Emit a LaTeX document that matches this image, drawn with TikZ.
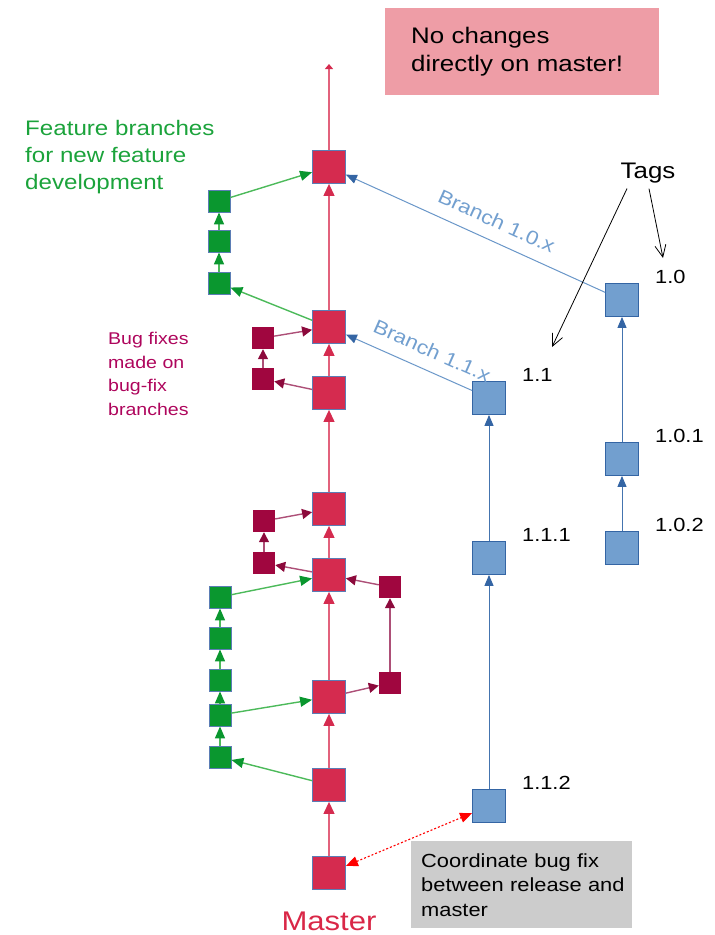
\documentclass[tikz,border=0pt]{standalone}
\usepackage{fontspec}
\setmainfont{Liberation Sans}[FakeStretch=1.15]
\usetikzlibrary{positioning,arrows.meta}

\definecolor{masterred}{HTML}{D52B4F}
\definecolor{masterline}{HTML}{E2627C}
\definecolor{featgreen}{HTML}{0A972F}
\definecolor{featline}{HTML}{4CBA5A}
\definecolor{feattext}{HTML}{1BA33B}
\definecolor{bugred}{HTML}{A0063F}
\definecolor{bugline}{HTML}{AD4F77}
\definecolor{bughead}{HTML}{8C0A3C}
\definecolor{relblue}{HTML}{729FCF}
\definecolor{reldark}{HTML}{3465A4}
\definecolor{boxedge}{HTML}{5B7DB5}
\definecolor{notepink}{HTML}{EE9DA6}
\definecolor{notegray}{HTML}{CCCCCC}

\tikzset{
  commit/.style={draw=boxedge, line width=0.8pt, inner sep=0pt, minimum size=33pt},
  master/.style={commit, fill=masterred},
  feature/.style={commit, fill=featgreen, minimum size=22pt},
  bugfix/.style={fill=bugred, inner sep=0pt, minimum size=22pt},
  release/.style={commit, fill=relblue, draw=reldark},
  masterarrow/.style={masterline, line width=1.2pt, -{Triangle[length=12pt,width=11pt,color=masterred]}},
  featarrow/.style={featline, line width=1.4pt, -{Triangle[length=12pt,width=10pt,color=featgreen]}},
  bugarrow/.style={bugline, line width=1.4pt, -{Triangle[length=10pt,width=10pt,color=bughead]}},
  relarrow/.style={reldark!75!relblue, line width=1pt, -{Triangle[length=11pt,width=9pt,color=reldark]}},
  branchline/.style={relarrow, relblue!85!reldark},
  tagarrow/.style={black, line width=0.8pt, -{Straight Barb[length=12pt,width=11pt]}},
  version/.style={font=\fontsize{19}{23}\selectfont, anchor=base west, inner sep=0pt},
  branchlabel/.style={font=\fontsize{19.5}{22}\selectfont, text=relblue, sloped, above=9pt},
  note/.style={anchor=north west, align=left, inner ysep=0pt}
}

\begin{document}
\begin{tikzpicture}[x=1pt, y=-1pt]
  \useasboundingbox (0,0) rectangle (715,935);

  % Master commits
  \foreach \n/\y in {1/167, 2/327, 3/393, 4/509, 5/575, 6/697, 7/785, 8/873}
    \node[master] (m\n) at (329,\y) {};
  \coordinate (mtop) at (329,64);
  \draw[masterline, line width=1.2pt, -{Triangle[length=5pt,width=8pt,color=masterred]}] (m1) -- (mtop);
  \foreach \a/\b in {2/1, 3/2, 4/3, 5/4, 6/5, 7/6, 8/7}
    \draw[masterarrow] (m\a) -- (m\b);
  \node[text=masterred!90!red, font=\fontsize{27}{30}\selectfont] (masterlbl) at (329,921) {Master};

  % Feature branches
  \foreach \n/\y in {1/201, 2/241, 3/283}
    \node[feature] (fa\n) at (219,\y) {};
  \foreach \n/\y in {1/597, 2/638, 3/680, 4/715, 5/757}
    \node[feature] (fb\n) at (220,\y) {};
  \draw[featarrow] (m2) -- (fa3);
  \draw[featarrow] (fa3) -- (fa2);
  \draw[featarrow] (fa2) -- (fa1);
  \draw[featarrow] (fa1) -- (m1);
  \draw[featarrow] (m7) -- (fb5);
  \foreach \a/\b in {5/4, 4/3, 3/2, 2/1}
    \draw[featarrow] (fb\a) -- (fb\b);
  \draw[featarrow] (fb4) -- (m6);
  \draw[featarrow] (fb1) -- (m5);
  \node[note, text=feattext, inner xsep=0pt, font=\fontsize{21}{27}\selectfont] (featlbl) at (25,120)
    {Feature branches\\for new feature\\development};

  % Bug-fix branches
  \node[bugfix] (b1) at (263,338) {};
  \node[bugfix] (b2) at (263,379) {};
  \node[bugfix] (b3) at (264,521) {};
  \node[bugfix] (b4) at (264,563) {};
  \node[bugfix] (b5) at (390,587) {};
  \node[bugfix] (b6) at (390,683) {};
  \draw[bugarrow] (m3) -- (b2);
  \draw[bugarrow] (b2) -- (b1);
  \draw[bugarrow] (b1) -- (m2);
  \draw[bugarrow] (m5) -- (b4);
  \draw[bugarrow] (b4) -- (b3);
  \draw[bugarrow] (b3) -- (m4);
  \draw[bugarrow] (m6) -- (b6);
  \draw[bugarrow] (b6) -- (b5);
  \draw[bugarrow] (b5) -- (m5);
  \node[note, text=bugred!85!magenta, inner xsep=0pt, font=\fontsize{17}{23.5}\selectfont] (buglbl) at (108,332)
    {Bug fixes\\made on\\bug-fix\\branches};

  % Release branches with their tags
  \foreach \n/\y/\t in {10/300/1.0, 101/459/1.0.1, 102/548/1.0.2} {
    \node[release] (r\n) at (622,\y) {};
    \node[version] (v\n) at ([xshift=16pt]r\n.north east) {\t};
  }
  \foreach \n/\y/\t in {11/398/1.1, 111/558/1.1.1, 112/806/1.1.2} {
    \node[release] (r\n) at (489,\y) {};
    \node[version] (v\n) at ([xshift=16pt]r\n.north east) {\t};
  }
  \draw[relarrow] (r102) -- (r101);
  \draw[relarrow] (r101) -- (r10);
  \draw[relarrow] (r112) -- (r111);
  \draw[relarrow] (r111) -- (r11);
  \draw[branchline] (r10) -- node[branchlabel, pos=0.45] {Branch 1.0.x} (m1);
  \draw[branchline] (r11) -- node[branchlabel, pos=0.38] {Branch 1.1.x} (m2);

  % Tags
  \node[font=\fontsize{22.5}{26}\selectfont] (tags) at (648,173) {Tags};
  \coordinate (tag11) at (552,347);
  \coordinate (tag10) at (663,258);
  \draw[tagarrow] ([xshift=-21pt,yshift=-2pt]tags.south) -- (tag11);
  \draw[tagarrow] ([xshift=1pt,yshift=-2pt]tags.south) -- (tag10);

  % Notes
  \node[note, fill=notepink, text width=248pt, inner xsep=13pt, minimum height=87pt,
        font=\fontsize{22.5}{28.5}\selectfont] (nochange) at (385,8)
    {\hspace*{13pt}No changes\\\hspace*{13pt}directly on master!};
  \node[note, fill=notegray, text width=211pt, inner xsep=5pt, minimum height=87pt,
        font=\fontsize{19}{24.5}\selectfont] (coord) at (411,841)
    {\hspace*{5pt}Coordinate bug fix\\\hspace*{5pt}between release and\\\hspace*{5pt}master};
  \draw[red, line width=1.1pt, dash pattern=on 2pt off 2pt,
        {Triangle[length=12pt,width=10pt]}-{Triangle[length=12pt,width=10pt]}] (m8) -- (r112);
\end{tikzpicture}
\end{document}
